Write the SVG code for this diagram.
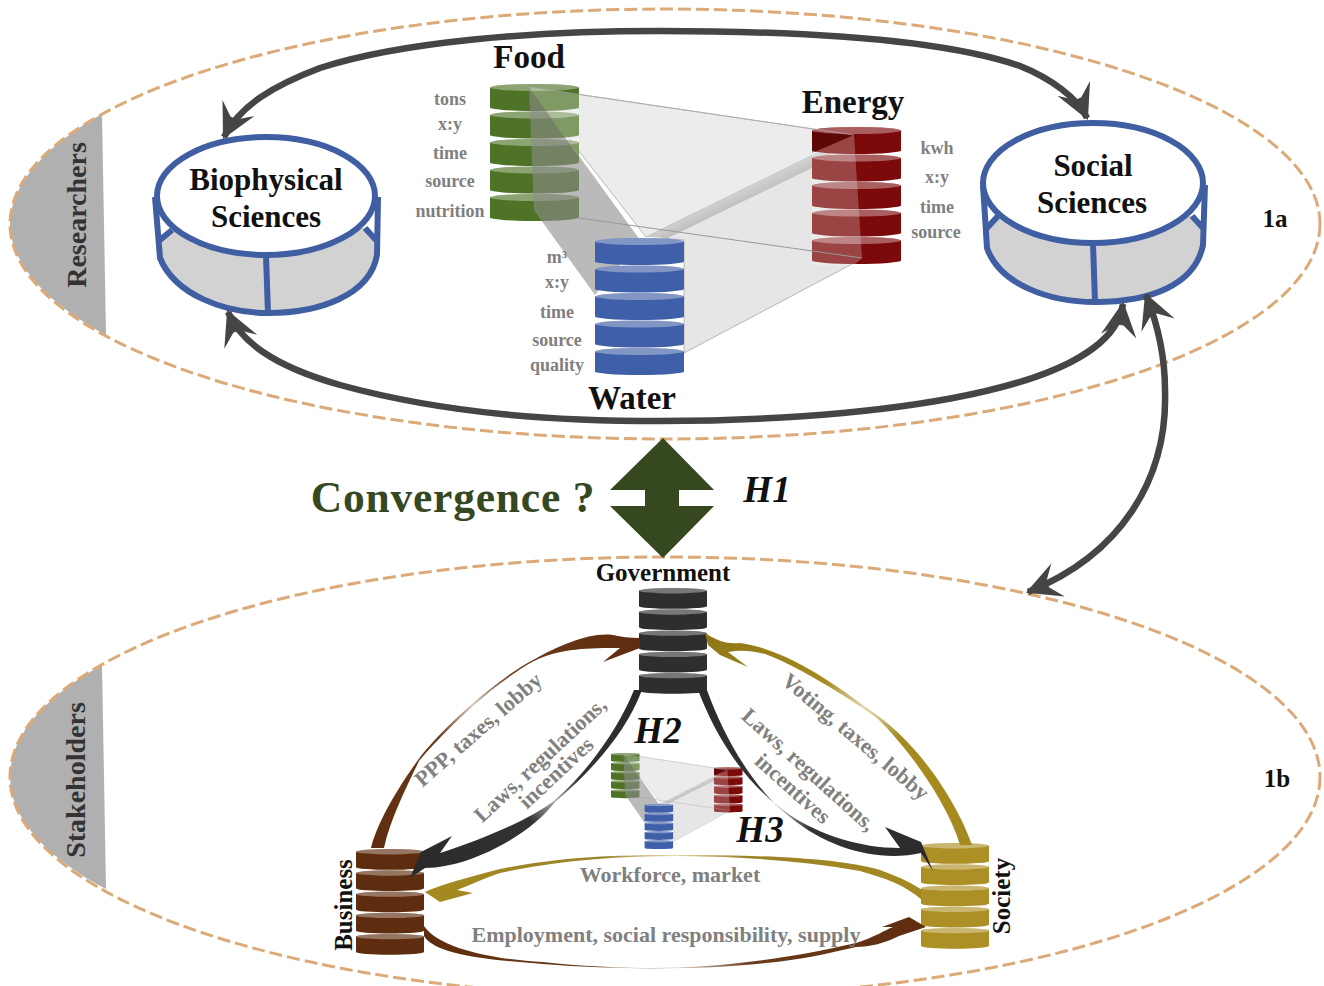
<svg xmlns="http://www.w3.org/2000/svg" xmlns:xlink="http://www.w3.org/1999/xlink" width="1324" height="986" viewBox="0 0 1324 986">
<style>
text{font-family:"Liberation Serif","Times New Roman",serif;font-weight:bold;text-anchor:middle}
.g{fill:#7f7f7f;font-size:18px}
.k{fill:#111}
.t{font-size:31px}
.n{font-size:33px}
.h{font-size:37px;font-style:italic}
.l{fill:#808080;font-size:22px}
.dash{fill:none;stroke:#dcaa78;stroke-width:3;stroke-dasharray:13 5}
.seg{fill:#b0b0b0}
.cyl{fill:none;stroke:#3f5fa2;stroke-width:6}
.arc{fill:none;stroke:#454545;stroke-width:6.5}
.body{fill:currentColor}
.lid{fill:#fff;fill-opacity:.35}
</style>
<defs>
<g id="disc"><path class="body" d="M0,3.5A44.5,3.5 0 0 1 89,3.5V23.5A44.5,3.5 0 0 1 0,23.5Z"/><ellipse class="lid" cx="44.5" cy="3.5" rx="44.5" ry="3.5"/></g>
<g id="stack">
<use xlink:href="#disc" y="0"/><use xlink:href="#disc" y="27.5"/><use xlink:href="#disc" y="55"/><use xlink:href="#disc" y="82.5"/><use xlink:href="#disc" y="110"/>
</g>
<marker id="barb" markerUnits="userSpaceOnUse" markerWidth="38" markerHeight="38" refX="31" refY="17" orient="auto-start-reverse" viewBox="0 0 34 34">
<path d="M33,17L2,1L12,14V20L2,33Z" fill="#454545"/>
</marker>
<linearGradient id="brownUp" gradientUnits="userSpaceOnUse" x1="372" y1="850" x2="640" y2="645"><stop offset="0" stop-color="#5e2c0e"/><stop offset=".36" stop-color="#6a3c1c"/><stop offset=".5" stop-color="#d8cbbf"/><stop offset=".64" stop-color="#6a3c1c"/><stop offset="1" stop-color="#5e2c0e"/></linearGradient>
<linearGradient id="goldUp" gradientUnits="userSpaceOnUse" x1="968" y1="845" x2="706" y2="640"><stop offset="0" stop-color="#a58a20"/><stop offset=".36" stop-color="#a58a20"/><stop offset=".5" stop-color="#e4dab0"/><stop offset=".64" stop-color="#a58a20"/><stop offset="1" stop-color="#8f7618"/></linearGradient>
<linearGradient id="goldLow" gradientUnits="userSpaceOnUse" x1="920" y1="880" x2="430" y2="895"><stop offset="0" stop-color="#a58a20"/><stop offset=".35" stop-color="#9a8228"/><stop offset=".5" stop-color="#e6dcae"/><stop offset=".65" stop-color="#9a8228"/><stop offset="1" stop-color="#a58a20"/></linearGradient>
<linearGradient id="brownLow" gradientUnits="userSpaceOnUse" x1="424" y1="930" x2="925" y2="925"><stop offset="0" stop-color="#5e2c0e"/><stop offset=".35" stop-color="#6a3c1c"/><stop offset=".5" stop-color="#d8cbbf"/><stop offset=".65" stop-color="#6a3c1c"/><stop offset="1" stop-color="#5e2c0e"/></linearGradient>
<linearGradient id="blackL" gradientUnits="userSpaceOnUse" x1="640" y1="690" x2="412" y2="865"><stop offset="0" stop-color="#2a2a2a"/><stop offset=".36" stop-color="#333"/><stop offset=".47" stop-color="#aaa"/><stop offset=".58" stop-color="#333"/><stop offset="1" stop-color="#2a2a2a"/></linearGradient>
<linearGradient id="blackR" gradientUnits="userSpaceOnUse" x1="700" y1="690" x2="935" y2="870"><stop offset="0" stop-color="#2a2a2a"/><stop offset=".36" stop-color="#333"/><stop offset=".47" stop-color="#aaa"/><stop offset=".58" stop-color="#333"/><stop offset="1" stop-color="#2a2a2a"/></linearGradient>
<linearGradient id="strip" gradientUnits="userSpaceOnUse" x1="735" y1="172" x2="750" y2="204"><stop offset="0" stop-color="#ececec"/><stop offset="1" stop-color="#b9b9b9"/></linearGradient>
<g id="triad">
<path d="M662,238L854,135L862,258L854,263L684,353L684,240Z" fill="#e6e6e6" stroke="#a8a8a8" stroke-width=".8"/>
<path d="M529,87L854,135L646,237Z" fill="#ececec" stroke="#a8a8a8" stroke-width=".8"/>
<path d="M854,135L646,237L668,238L812,168Z" fill="url(#strip)"/>
<g style="color:#4e7327"><use xlink:href="#stack" x="490" y="84"/></g>
<g style="color:#7c0a0a"><use xlink:href="#stack" x="812" y="127"/></g>
<path d="M812,153L854,135L862,258L854,265L812,265Z" fill="#fff" fill-opacity=".24"/>
<path d="M812,132L854,135L812,153Z" fill="#000" fill-opacity=".25"/>
<path d="M529,87L534,210L541,220L595,295L640,240Z" fill="#8c8c8c" fill-opacity=".6"/>
<path d="M529,87L579,95V157Z" fill="#fff" fill-opacity=".28"/>
<path d="M579,218L862,258" fill="none" stroke="#999" stroke-width="1"/>
<path d="M529,87L854,135" fill="none" stroke="#aaa" stroke-width=".8"/>
<g style="color:#3f5fa8"><use xlink:href="#stack" x="595" y="238"/></g>
</g>
</defs>

<g id="researchers-frame">
<path class="seg" d="M102,114C45,146 10,185 10,224C10,265 50,305 106,335Z"/>
<ellipse class="dash" cx="665" cy="224" rx="655" ry="215"/>
<text style="font-size:28px;fill:#333" transform="translate(86,215) rotate(-90)">Researchers</text>
<text class="k" x="1275" y="227" style="font-size:25px">1a</text>
</g>
<g id="stakeholders-frame">
<path class="seg" d="M102,665C45,697 10,735 10,777C10,820 50,860 106,889Z"/>
<ellipse class="dash" cx="665" cy="777" rx="655" ry="220"/>
<text style="font-size:28px;fill:#333" transform="translate(85,780) rotate(-90)">Stakeholders</text>
<text class="k" x="1277" y="787" style="font-size:25px">1b</text>
</g>

<g id="node-biophysical">
<path d="M172,230L160,240V258C175,295 225,313 268,313C320,313 370,295 377,250V240L365,228Z" fill="#d2d2d2"/>
<path class="cyl" d="M155,197L160,258C175,295 225,313 268,313C320,313 370,295 377,255L378,197M266,256L268,313M160,240L172,230M376,240L365,228"/>
<ellipse class="cyl" style="fill:#fff" cx="266" cy="196" rx="109" ry="59"/>
<text class="k t" x="266" y="190">Biophysical</text>
<text class="k t" x="266" y="227">Sciences</text>
</g>
<g id="node-social">
<path d="M998,216L987,228V248C1000,285 1050,302 1095,302C1150,302 1195,285 1203,245V228L1192,216Z" fill="#d2d2d2"/>
<path class="cyl" d="M983,185L987,248C1000,285 1050,302 1095,302C1150,302 1195,285 1203,245L1205,185M1093,243L1095,302M987,228L998,216M1203,228L1192,216"/>
<ellipse class="cyl" style="fill:#fff" cx="1093" cy="183" rx="110" ry="60"/>
<text class="k t" x="1093" y="176">Social</text>
<text class="k t" x="1092" y="213">Sciences</text>
</g>

<g id="node-nexus">
<use xlink:href="#triad"/>
<text class="k n" x="529" y="68">Food</text>
<text class="k n" x="853" y="113">Energy</text>
<text class="k n" x="632" y="409">Water</text>
<g class="labels">
<text class="g" x="450" y="105">tons</text><text class="g" x="450" y="130">x:y</text><text class="g" x="450" y="159">time</text><text class="g" x="450" y="187">source</text><text class="g" x="450" y="217">nutrition</text>
<text class="g" x="937" y="154">kwh</text><text class="g" x="937" y="183">x:y</text><text class="g" x="937" y="213">time</text><text class="g" x="936" y="238">source</text>
<text class="g" x="557" y="263">m³</text><text class="g" x="557" y="288">x:y</text><text class="g" x="557" y="318">time</text><text class="g" x="557" y="346">source</text><text class="g" x="557" y="371">quality</text>
</g>
</g>

<g id="convergence">
<path fill="#35481f" d="M663,438L714,490H679V506H714L663,558L610,506H645V490H610Z"/>
<text x="453" y="512" style="font-size:43.5px;fill:#35481f;letter-spacing:.8px">Convergence ?</text>
<text class="k h" x="767" y="502">H1</text>
</g>

<g id="node-government" style="color:#2e2e2e"><use xlink:href="#stack" transform="translate(639,588) scale(.764,.772)"/><text class="k" x="663" y="581" style="font-size:25px">Government</text></g>
<g id="node-business" style="color:#5e2c0e"><use xlink:href="#stack" transform="translate(356,849) scale(.764,.772)"/><text class="k" style="font-size:25px" transform="translate(352,905) rotate(-90)">Business</text></g>
<g id="node-society" style="color:#ad9025"><use xlink:href="#stack" transform="translate(921,843) scale(.764,.772)"/><text class="k" style="font-size:25px" transform="translate(1010,896) rotate(-90)">Society</text></g>
<g id="node-mini"><use xlink:href="#triad" transform="translate(611,753) scale(.32,.33) translate(-490,-84)"/></g>

<g id="connectors">
<path class="arc" marker-start="url(#barb)" marker-end="url(#barb)" d="M224,137C240,105 275,85 320,68C400,42 530,31 660,31C830,31 950,42 1020,66C1050,78 1078,98 1087,118"/>
<path class="arc" marker-start="url(#barb)" marker-end="url(#barb)" d="M228,312C240,340 270,365 340,385C450,415 560,421 660,421C830,421 1110,400 1123,304"/>
<path class="arc" marker-start="url(#barb)" marker-end="url(#barb)" d="M1146,295C1160,330 1165,360 1165,390C1168,480 1120,555 1028,592"/>
<path id="flow-business-government" fill="url(#brownUp)" d="M640,638Q625,638 613,635C590,632 560,645 533,660C495,680 440,730 418,760C400,785 378,820 371,848L384,848C390,820 405,790 419,761C445,730 495,682 534,661C560,648 590,648 620,648L603,662L640,648Z"/>
<path id="flow-society-government" fill="url(#goldUp)" d="M705,633Q722,645 740,643C790,650 840,688 878,716C925,750 960,810 972,845L960,845C950,810 915,755 877,718C840,692 795,665 765,654C750,650 740,650 728,652L748,667L720,655L708,645Z"/>
<path id="flow-government-business" fill="url(#blackL)" d="M634,690C620,725 590,770 555,800C530,820 480,840 440,853L452,836L421,852L410,878L425,868C470,868 530,835 555,802C590,772 625,735 642,690Z"/>
<path id="flow-government-society" fill="url(#blackR)" d="M698,690C715,735 745,785 790,815C820,835 860,848 900,848L885,827L921,842L933,871L921,853C880,862 830,850 790,817C755,790 725,740 707,690Z"/>
<path id="flow-society-business" fill="url(#goldLow)" d="M425,892C440,885 465,878 500,869C570,855 630,855 680,855C760,855 840,858 880,870C900,877 915,885 922,890L922,900C905,885 885,878 860,871C800,860 740,857 680,856C620,856 560,860 500,873C485,878 470,885 457,890L473,893L440,902Z"/>
<path id="flow-business-society" fill="url(#brownLow)" d="M424,926C440,950 500,960 543,962C580,966 620,968 655,968C700,968 770,963 856,943C875,937 885,930 893,927L882,927L909,917L926,927L899,936C885,943 870,947 856,947C830,953 800,960 766,963C700,970 620,970 543,964C490,960 435,955 424,936Z"/>
</g>

<g id="flow-labels">
<text class="l" transform="translate(483,735) rotate(-41)">PPP, taxes, lobby</text>
<text class="l" transform="translate(545,765) rotate(-43)">Laws, regulations,</text>
<text class="l" transform="translate(561,778) rotate(-43)">incentives</text>
<text class="l" transform="translate(851,742) rotate(40)">Voting, taxes, lobby</text>
<text class="l" transform="translate(804,775) rotate(42)">Laws, regulations,</text>
<text class="l" transform="translate(788,794) rotate(42)">incentives</text>
<text class="l" x="670" y="882">Workforce, market</text>
<text class="l" x="666" y="942">Employment, social responsibility, supply</text>
<text class="k h" x="658" y="743">H2</text>
<text class="k h" x="760" y="842">H3</text>
</g>
</svg>
